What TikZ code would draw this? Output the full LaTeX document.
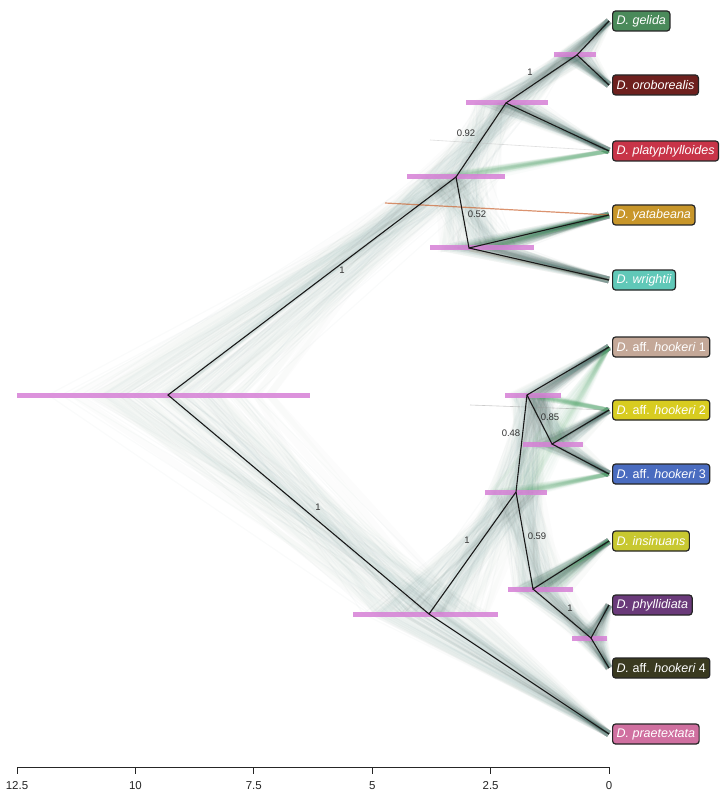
\documentclass[tikz,border=0pt]{standalone}
\usepackage{fontspec}
\setmainfont{Liberation Sans}
\definecolor{hpdc}{RGB}{214,128,214}
\definecolor{hazec}{RGB}{40,84,76}
\definecolor{hazeg}{RGB}{60,160,90}
\definecolor{cgel}{RGB}{74,138,90}
\definecolor{coro}{RGB}{110,32,30}
\definecolor{cpla}{RGB}{200,52,72}
\definecolor{cyat}{RGB}{200,150,42}
\definecolor{cwri}{RGB}{96,200,184}
\definecolor{ch1}{RGB}{196,168,152}
\definecolor{ch2}{RGB}{216,204,32}
\definecolor{ch3}{RGB}{74,108,192}
\definecolor{cins}{RGB}{200,200,48}
\definecolor{cphy}{RGB}{106,58,122}
\definecolor{ch4}{RGB}{58,58,32}
\definecolor{cpra}{RGB}{208,112,160}
\tikzset{
  branch/.style={line width=1.1pt, draw=black!90},
  hpd/.style={line width=5pt, draw=hpdc, opacity=0.85},
  haze/.style={line width=7pt, draw=hazec, opacity=0.011},
  hazethin/.style={line width=1.2pt, draw=hazec, opacity=0.018},
  hazegreen/.style={line width=4pt, draw=hazeg, opacity=0.025},
  taxon/.style={anchor=west, rounded corners=3pt, draw=black!85, line width=1.2pt, text=white,
    font=\fontsize{12.5}{14}\selectfont, inner xsep=4pt, inner ysep=3pt, minimum height=20pt},
  supp/.style={font=\fontsize{9.5}{11}\selectfont, text=black!80},
  axlab/.style={font=\fontsize{11.5}{13}\selectfont, text=black!85},
  axline/.style={line width=1pt, draw=black!85}
}
\begin{document}
\begin{tikzpicture}[x=1pt,y=-1pt]
\useasboundingbox (0,0) rectangle (721,791);
\fill[white] (0,0) rectangle (721,791);

% internal nodes
\coordinate (R) at (168,395);
\coordinate (A) at (456,177);
\coordinate (B) at (506,103);
\coordinate (C) at (577,55);
\coordinate (D) at (469,248);
\coordinate (E) at (429,614);
\coordinate (F) at (516,492);
\coordinate (G) at (527,395);
\coordinate (H) at (552,444);
\coordinate (I) at (533,589);
\coordinate (J) at (591,638);
% tips
\coordinate (tgel) at (609,21);
\coordinate (toro) at (609,85);
\coordinate (tpla) at (609,151);
\coordinate (tyat) at (609,215);
\coordinate (twri) at (609,280);
\coordinate (th1) at (609,347);
\coordinate (th2) at (609,410);
\coordinate (th3) at (609,474);
\coordinate (tins) at (609,541);
\coordinate (tphy) at (609,605);
\coordinate (th4) at (609,668);
\coordinate (tpra) at (609,734);

% cloud of sampled trees
\pgfmathsetseed{7}
\foreach \k in {1,...,110}{
  \pgfmathsetmacro\xR{163+130*(rand+rand)/2}
  \pgfmathsetmacro\xA{456+48*(rand+rand)/2}
  \pgfmathsetmacro\xB{507+40*(rand+rand)/2}
  \pgfmathsetmacro\xC{575+21*(rand+rand)/2}
  \pgfmathsetmacro\xD{482+50*(rand+rand)/2}
  \pgfmathsetmacro\xE{425+70*(rand+rand)/2}
  \pgfmathsetmacro\xF{516+30*(rand+rand)/2}
  \pgfmathsetmacro\xG{533+27*(rand+rand)/2}
  \pgfmathsetmacro\xH{553+29*(rand+rand)/2}
  \pgfmathsetmacro\xI{540+31*(rand+rand)/2}
  \pgfmathsetmacro\xJ{590+17*(rand+rand)/2}
  \ifodd\k\def\hz{haze}\else\def\hz{hazethin}\fi
  \draw[\hz] (tgel) -- (\xC,55) -- (toro);
  \draw[\hz] (\xC,55) -- (\xB,103) -- (tpla);
  \draw[\hz] (\xB,103) -- (\xA,177) -- (\xD,248) -- (tyat);
  \draw[\hz] (\xD,248) -- (twri);
  \draw[\hz] (\xA,177) -- (\xR,395) -- (\xE,614) -- (tpra);
  \draw[\hz] (\xE,614) -- (\xF,492) -- (\xG,395) -- (th1);
  \draw[\hz] (\xG,395) -- (\xH,444) -- (th2);
  \draw[\hz] (\xH,444) -- (th3);
  \draw[\hz] (\xF,492) -- (\xI,589) -- (tins);
  \draw[\hz] (\xI,589) -- (\xJ,638) -- (tphy);
  \draw[\hz] (\xJ,638) -- (th4);
}
\foreach \k in {1,...,30}{
  \pgfmathsetmacro\xA{456+45*(rand+rand)/2}
  \pgfmathsetmacro\xF{516+29*(rand+rand)/2}
  \pgfmathsetmacro\xG{533+26*(rand+rand)/2}
  \pgfmathsetmacro\xI{540+30*(rand+rand)/2}
  \pgfmathsetmacro\xD{482+48*(rand+rand)/2}
  \draw[hazegreen] (\xF,492) -- (th1);
  \draw[hazegreen] (\xG,395) -- (th2);
  \draw[hazegreen] (\xF,492) -- (th3);
  \draw[hazegreen] (\xI,589) -- (tins);
  \draw[hazegreen] (\xD,248) -- (tyat);
  \draw[hazegreen] (\xA,177) -- (tpla);
}
% alternative-topology streaks
\coordinate (brS) at (385,203);
\draw[line width=1.2pt, draw=brown!80!red, opacity=0.7] (brS) -- (tyat);
\coordinate (brW) at (470,250);
\draw[line width=3pt, draw=brown!60, opacity=0.15] (brW) -- (twri);
\coordinate (gS) at (470,405);
\draw[line width=0.6pt, draw=black!40, opacity=0.5] (gS) -- (th2);
\coordinate (pS) at (430,140);
\draw[line width=0.6pt, draw=black!25, opacity=0.5] (pS) -- (tpla);

% HPD bars
\draw[hpd] (17,395) -- (310,395);
\draw[hpd] (407,177) -- (505,177);
\draw[hpd] (466,103) -- (548,103);
\draw[hpd] (554,55) -- (596,55);
\draw[hpd] (430,248) -- (534,248);
\draw[hpd] (353,614) -- (498,614);
\draw[hpd] (485,492) -- (547,492);
\draw[hpd] (505,395) -- (561,395);
\draw[hpd] (523,444) -- (583,444);
\draw[hpd] (508,589) -- (573,589);
\draw[hpd] (572,638) -- (607,638);

% consensus tree
\draw[branch] (tgel) -- (C) -- (toro);
\draw[branch] (C) -- (B) -- (tpla);
\draw[branch] (B) -- (A) -- (D) -- (tyat);
\draw[branch] (D) -- (twri);
\draw[branch] (A) -- (R) -- (E) -- (tpra);
\draw[branch] (E) -- (F) -- (G) -- (th1);
\draw[branch] (G) -- (H) -- (th2);
\draw[branch] (H) -- (th3);
\draw[branch] (F) -- (I) -- (tins);
\draw[branch] (I) -- (J) -- (tphy);
\draw[branch] (J) -- (th4);

% support values
\node[supp] (s1) at (530,72) {1};
\node[supp] (s2) at (466,133) {0.92};
\node[supp] (s3) at (477,214) {0.52};
\node[supp] (s4) at (342,270) {1};
\node[supp] (s5) at (550,417) {0.85};
\node[supp] (s6) at (511,433) {0.48};
\node[supp] (s7) at (467,540) {1};
\node[supp] (s8) at (537,536) {0.59};
\node[supp] (s9) at (570,608) {1};
\node[supp] (s10) at (318,507) {1};

% taxon labels
\node[taxon, fill=cgel] (lgel) at (612,21) {\itshape D. gelida};
\node[taxon, fill=coro] (loro) at (612,85) {\itshape D. oroborealis};
\node[taxon, fill=cpla] (lpla) at (612,151) {\itshape D. platyphylloides};
\node[taxon, fill=cyat] (lyat) at (612,215) {\itshape D. yatabeana};
\node[taxon, fill=cwri] (lwri) at (612,280) {\itshape D. wrightii};
\node[taxon, fill=ch1] (lh1) at (612,347) {{\itshape D.} aff. {\itshape hookeri} 1};
\node[taxon, fill=ch2] (lh2) at (612,410) {{\itshape D.} aff. {\itshape hookeri} 2};
\node[taxon, fill=ch3] (lh3) at (612,474) {{\itshape D.} aff. {\itshape hookeri} 3};
\node[taxon, fill=cins] (lins) at (612,541) {\itshape D. insinuans};
\node[taxon, fill=cphy] (lphy) at (612,605) {\itshape D. phyllidiata};
\node[taxon, fill=ch4] (lh4) at (612,668) {{\itshape D.} aff. {\itshape hookeri} 4};
\node[taxon, fill=cpra] (lpra) at (612,734) {\itshape D. praetextata};

% time axis
\coordinate (ax0) at (17,767);
\coordinate (ax1) at (609,767);
\draw[axline] (ax0) -- (ax1);
\foreach \v/\t in {12.5/12.5,10/10,7.5/7.5,5/5,2.5/2.5,0/0}{
  \pgfmathsetmacro\xx{609-47.36*\v}
  \draw[axline] (\xx,767) -- (\xx,774);
  \node[axlab] at (\xx,786) {\t};
}
\end{tikzpicture}
\end{document}
